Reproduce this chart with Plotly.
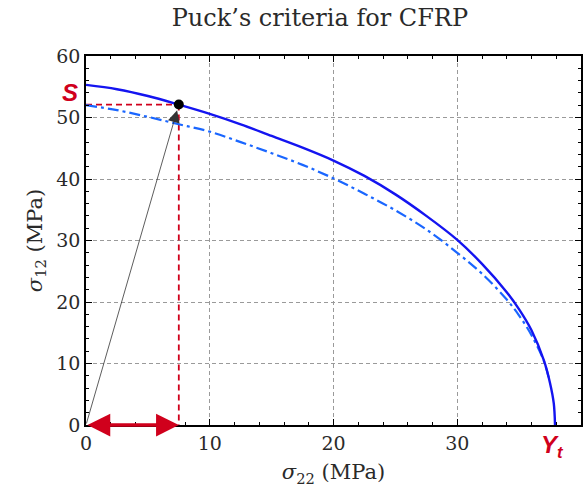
import plotly.graph_objects as go

# Puck criterion (solid)
puck_x = [0, 2.5, 5, 7.5, 10, 12.5, 15, 17.5, 20, 22.5, 25, 27.5, 30, 32, 34, 35, 36, 37, 37.5, 37.8, 37.9]
puck_y = [55.3, 54.6, 53.5, 52.1, 50.6, 48.9, 47.0, 45.1, 43.0, 40.5, 37.5, 34.0, 30.1, 26.2, 21.6, 18.8, 15.4, 10.5, 6.8, 3.5, 0]

# second envelope (dash-dot)
env_x = [0, 2.5, 5, 7.5, 10, 12.5, 15, 17.5, 20, 22.5, 25, 27.5, 30, 32, 34, 35, 36, 37, 37.4]
env_y = [52.0, 51.2, 50.1, 48.9, 47.7, 46.0, 44.2, 42.3, 40.1, 37.6, 34.9, 31.8, 28.0, 24.6, 20.4, 17.8, 14.6, 10.4, 7.6]

# load point
pt_x = [7.5]
pt_y = [52.1]

S_val = 55.3
Yt_val = 37.9

x_ticks = [0, 10, 20, 30, 40]
y_ticks = [0, 10, 20, 30, 40, 50, 60]
x_minor = [2, 4, 6, 8, 12, 14, 16, 18, 22, 24, 26, 28, 32, 34, 36, 38]
y_minor = [2, 4, 6, 8, 12, 14, 16, 18, 22, 24, 26, 28, 32, 34, 36, 38, 42, 44, 46, 48, 52, 54, 56, 58]

RED = "#d0001c"
serif = "DejaVu Serif"
TXT = "#2a2a2a"

fig = go.Figure()

# red dashed guides
fig.add_trace(go.Scatter(x=[0, pt_x[0]], y=[pt_y[0], pt_y[0]], mode="lines",
                         line=dict(color=RED, width=1.8, dash="6px,4px"), showlegend=False))
fig.add_trace(go.Scatter(x=[pt_x[0], pt_x[0]], y=[pt_y[0], 0], mode="lines",
                         line=dict(color=RED, width=1.8, dash="6px,4px"), showlegend=False))

fig.add_trace(go.Scatter(x=env_x, y=env_y, mode="lines",
                         line=dict(color="#1a66ff", width=2.2, dash="11px,4px,3px,4px", shape="spline"),
                         showlegend=False))
fig.add_trace(go.Scatter(x=puck_x, y=puck_y, mode="lines",
                         line=dict(color="#1414f0", width=2.4, shape="spline"), showlegend=False))

fig.add_trace(go.Scatter(x=pt_x, y=pt_y, mode="markers",
                         marker=dict(color="black", size=10), showlegend=False))


def axis_common(minor_vals):
    return dict(
        showline=True, linecolor="black", linewidth=1.5, mirror="allticks",
        ticks="inside", ticklen=6, tickcolor="black", tickwidth=1.2,
        showgrid=True, gridcolor="#9a9a9a", griddash="4px,3px", gridwidth=1,
        zeroline=False,
        minor=dict(tickmode="array", tickvals=minor_vals, ticks="inside", ticklen=3,
                   tickcolor="black", tickwidth=1, showgrid=False),
        tickfont=dict(family=serif, size=19, color=TXT),
    )


fig.update_layout(
    width=588, height=494,
    margin=dict(l=86, r=5, t=56, b=69),
    paper_bgcolor="white", plot_bgcolor="white",
    title=dict(text="Puck’s criteria for CFRP", x=0.544, xanchor="center",
               y=1 - 18 / 494, yanchor="middle",
               font=dict(family=serif, size=24, color=TXT)),
    xaxis=dict(range=[0, 40], tickmode="array", tickvals=x_ticks, ticktext=[str(v) for v in x_ticks],
               title=dict(text="<i>σ</i><sub>22</sub> (MPa)", font=dict(family=serif, size=21, color=TXT),
                          standoff=12),
               **axis_common(x_minor)),
    yaxis=dict(range=[0, 60], tickmode="array", tickvals=y_ticks, ticktext=[str(v) for v in y_ticks],
               title=dict(text="<i>σ</i><sub>12</sub> (MPa)", font=dict(family=serif, size=21, color=TXT),
                          standoff=8),
               **axis_common(y_minor)),
)

# thin black arrow from origin to load point
fig.add_annotation(x=pt_x[0], y=pt_y[0], ax=0, ay=0, xref="x", yref="y", axref="x", ayref="y",
                   text="", showarrow=True, arrowhead=2, arrowsize=3, arrowwidth=0.8,
                   arrowcolor="#333", standoff=6)
# red double arrow along sigma22
fig.add_annotation(x=pt_x[0], y=0, ax=0, ay=0, xref="x", yref="y", axref="x", ayref="y",
                   text="", showarrow=True, arrowside="end+start", arrowhead=2, startarrowhead=2,
                   arrowsize=1.3, startarrowsize=1.3, arrowwidth=3.5, arrowcolor=RED)

fig.add_annotation(x=0, y=54.1, xref="x", yref="y", xanchor="right", xshift=-6,
                   text="<b><i>S</i></b>", showarrow=False,
                   font=dict(family="Liberation Sans", size=24, color=RED))
fig.add_annotation(x=Yt_val, y=0, xref="x", yref="y", xanchor="center", yanchor="top", yshift=-4, xshift=-3,
                   text="<b><i>Y<sub>t</sub></i></b>", showarrow=False,
                   font=dict(family="Liberation Sans", size=24, color=RED))

fig.write_html("out.html")
